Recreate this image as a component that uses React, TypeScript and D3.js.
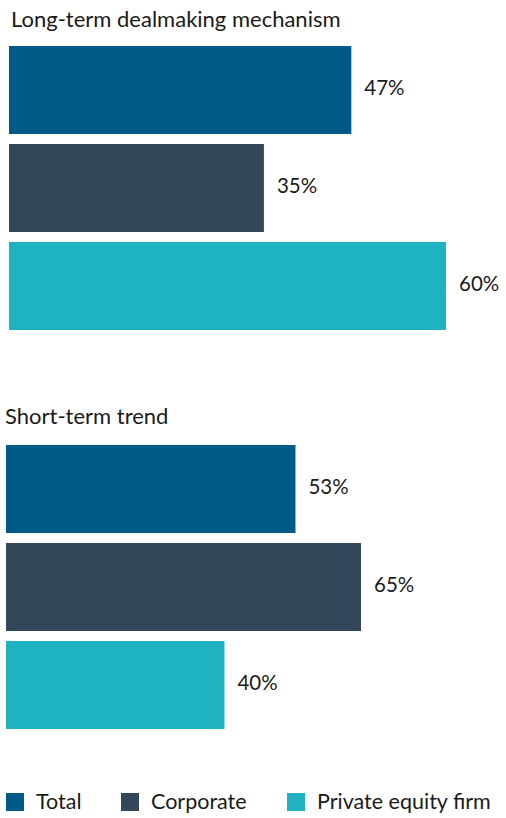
import React from "react";
import * as d3 from "d3";

const series = ["Total", "Corporate", "Private equity firm"];
const colors = ["#005A88", "#34465A", "#1FB3C2"];
const groupTitles = ["Long-term dealmaking mechanism", "Short-term trend"];
const longTermValues = [47, 35, 60];
const shortTermValues = [53, 65, 40];

const W = 506;
const H = 818;
const FONT = "Lato, 'Noto Sans', sans-serif";

const groups = [
  { title: groupTitles[0], values: longTermValues, x0: 9, titleX: 11, titleY: 27, top: 46, domainMax: 60, rangeMax: 437 },
  { title: groupTitles[1], values: shortTermValues, x0: 6, titleX: 5, titleY: 424, top: 445, domainMax: 65, rangeMax: 355 },
];

export default function App() {
  return (
    <svg width={W} height={H} style={{ position: "absolute", left: 0, top: 0, background: "#fff" }} fontFamily={FONT}>
      {groups.map((g, gi) => {
        const x = d3.scaleLinear().domain([0, g.domainMax]).range([0, g.rangeMax]);
        const y = d3.scaleBand().domain(series).range([g.top, g.top + 3 * 98 - 10]).paddingInner(10 / 98).paddingOuter(0);
        return (
          <g key={gi}>
            <text x={g.titleX} y={g.titleY} fontSize={22} fill="#1a1a1a">{g.title}</text>
            {g.values.map((v, i) => {
              const yy = y(series[i])!;
              const bw = y.bandwidth();
              return (
                <g key={i}>
                  <rect x={g.x0} y={yy} width={x(v)} height={bw} fill={colors[i]} />
                  <text x={g.x0 + x(v) + 13} y={yy + bw / 2 - 2} dy="0.35em" fontSize={20.5} fill="#1a1a1a">{v}%</text>
                </g>
              );
            })}
          </g>
        );
      })}
      {series.map((s, i) => {
        const lx = [6, 121, 287][i];
        return (
          <g key={s}>
            <rect x={lx} y={793} width={18} height={18} fill={colors[i]} />
            <text x={lx + 30} y={809} fontSize={21.5} fill="#1a1a1a">{s}</text>
          </g>
        );
      })}
    </svg>
  );
}
